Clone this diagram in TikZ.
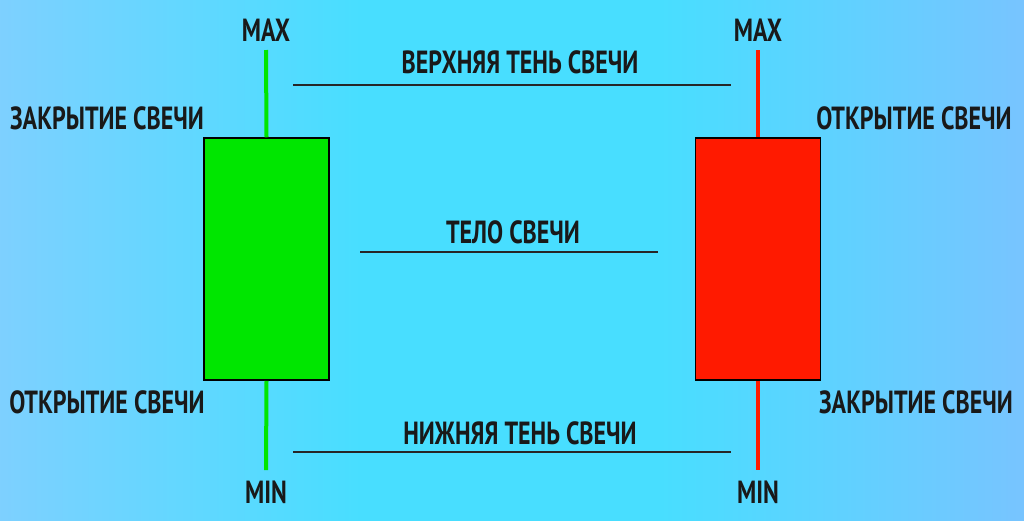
\documentclass[tikz,border=0pt]{standalone}
\usepackage{fontspec}
\setmainfont{PT Sans}[FakeStretch=0.75]
\usepackage{tikz}
\usetikzlibrary{positioning, calc}
\definecolor{bgleft}{HTML}{7ED0FF}
\definecolor{bgmid}{HTML}{48DEFF}
\definecolor{bgright}{HTML}{78C4FF}
\definecolor{bullgreen}{HTML}{00E600}
\definecolor{bearred}{HTML}{FF1A00}
\tikzstyle{bodynode} = [draw=black, rectangle, line width=1.5pt, minimum width=125pt, minimum height=242pt, inner sep=0pt]
\tikzstyle{lbl} = [font=\fontsize{32}{38}\selectfont\bfseries, text=black!90, inner sep=0pt]
\tikzstyle{wick} = [line width=4pt]
\tikzstyle{guide} = [line width=1.4pt, black!85]

\begin{document}
\begin{tikzpicture}[x=1pt, y=-1pt]
    % background
    \useasboundingbox (0,0) rectangle (1024,520);
    \shade[left color=bgleft, right color=bgmid] (-3,-3) rectangle (361,523);
    \fill[bgmid] (360,-3) rectangle (661,523);
    \shade[left color=bgmid, right color=bgright] (660,-3) rectangle (1027,523);

    % green candle
    \node (gbody) [bodynode, fill=bullgreen] at (266.5, 259) {};
    \coordinate (ghigh) at (266, 50);
    \coordinate (glow) at (266, 470);
    \draw [wick, bullgreen] (ghigh) -- (gbody.north);
    \draw [wick, bullgreen] (gbody.south) -- (glow);
    \node (gmax) [lbl] at (266, 30) {MAX};
    \node (gmin) [lbl] at (266, 492) {MIN};
    \node (gclose) [lbl] at (107, 118) {ЗАКРЫТИЕ СВЕЧИ};
    \node (gopen) [lbl] at (107, 402) {ОТКРЫТИЕ СВЕЧИ};

    % red candle
    \node (rbody) [bodynode, fill=bearred] at (758, 259) {};
    \coordinate (rhigh) at (758, 50);
    \coordinate (rlow) at (758, 470);
    \draw [wick, bearred] (rhigh) -- (rbody.north);
    \draw [wick, bearred] (rbody.south) -- (rlow);
    \node (rmax) [lbl] at (758, 30) {MAX};
    \node (rmin) [lbl] at (758, 492) {MIN};
    \node (ropen) [lbl] at (914, 118) {ОТКРЫТИЕ СВЕЧИ};
    \node (rclose) [lbl] at (916, 402) {ЗАКРЫТИЕ СВЕЧИ};

    % middle labels
    \coordinate (upl) at (293, 85);
    \coordinate (upr) at (731, 85);
    \draw [guide] (upl) -- (upr);
    \node (upper) [lbl] at (520, 62) {ВЕРХНЯЯ ТЕНЬ СВЕЧИ};
    \coordinate (bdl) at (360, 252);
    \coordinate (bdr) at (658, 252);
    \draw [guide] (bdl) -- (bdr);
    \node (body) [lbl] at (513, 232) {ТЕЛО СВЕЧИ};
    \coordinate (lol) at (293, 452);
    \coordinate (lor) at (731, 452);
    \draw [guide] (lol) -- (lor);
    \node (lower) [lbl] at (520, 433) {НИЖНЯЯ ТЕНЬ СВЕЧИ};
\end{tikzpicture}
\end{document}
